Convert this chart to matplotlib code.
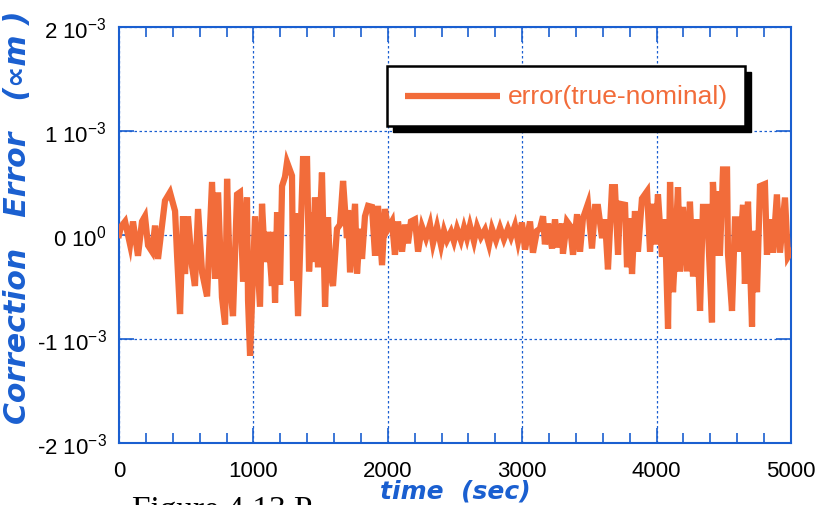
import matplotlib.pyplot as plt
from matplotlib.ticker import MultipleLocator
from matplotlib.patches import Rectangle

plt.rcParams['font.family'] = ['Liberation Sans', 'DejaVu Sans']
plt.rcParams['mathtext.fontset'] = 'custom'
plt.rcParams['mathtext.rm'] = 'Liberation Sans'
plt.rcParams['mathtext.it'] = 'Liberation Sans:italic'

# time (sec) and correction error (units of 1e-4 m)
t = [0, 15, 45, 82, 104, 141, 171, 193, 216, 246, 268, 290, 342, 379, 417, 432, 454, 476, 491, 513,
     543, 565, 588, 618, 655, 692, 714, 737, 766, 789, 804, 826, 848, 878, 900, 923, 952, 960, 975, 1012,
     1049, 1064, 1086, 1109, 1138, 1146, 1161, 1176, 1198, 1213, 1235, 1250, 1287, 1295, 1309, 1332, 1369, 1399, 1414, 1436,
     1443, 1458, 1481, 1510, 1533, 1555, 1570, 1592, 1622, 1644, 1667, 1696, 1704, 1719, 1756, 1771, 1793, 1808, 1830, 1853,
     1882, 1905, 1927, 1957, 1979, 2001, 2031, 2053, 2076, 2106, 2128, 2150, 2172, 2202, 2225, 2254, 2284, 2314, 2336, 2366,
     2396, 2418, 2440, 2470, 2492, 2515, 2544, 2567, 2589, 2611, 2641, 2664, 2693, 2723, 2753, 2775, 2805, 2835, 2864, 2894,
     2917, 2946, 2969, 2998, 3021, 3058, 3080, 3110, 3132, 3155, 3169, 3192, 3222, 3244, 3266, 3296, 3303, 3333, 3355, 3378,
     3408, 3430, 3452, 3489, 3519, 3542, 3564, 3594, 3616, 3638, 3668, 3690, 3713, 3727, 3765, 3780, 3802, 3817, 3839, 3861,
     3891, 3929, 3951, 3973, 3988, 4010, 4040, 4062, 4085, 4100, 4122, 4137, 4159, 4174, 4196, 4226, 4248, 4271, 4300, 4323,
     4345, 4375, 4412, 4419, 4449, 4457, 4471, 4494, 4524, 4531, 4561, 4583, 4605, 4620, 4643, 4657, 4680, 4710, 4717, 4747,
     4769, 4806, 4821, 4843, 4866, 4895, 4918, 4955, 4977, 5000]
err = [0.0, 0.8, 1.3, -0.9, 1.3, -2.0, 1.3, 1.8, -1.0, -1.6, 0.9, -2.3, 3.3, 4.1, 2.3, -2.0, -7.6, 1.8, -3.75, 1.8,
       -3.0, -4.9, 2.5, -3.6, -5.9, 5.1, -4.2, 4.1, -6.0, -8.6, 5.4, -4.9, -7.8, 3.9, 4.1, -4.5, 3.6, -6.3, -11.6, 1.8,
       -6.9, 3.0, -2.6, 0.3, -4.9, 0.3, -6.5, 2.2, -4.8, 4.7, 5.6, 7.0, 5.7, -4.4, 2.1, -7.8, 7.3, 7.3, -3.5, 2.2,
       -2.6, 3.6, -3.1, 6.0, -6.9, 1.7, -3.6, -4.9, 0.6, 1.0, 5.2, -0.3, 2.4, -3.6, 3.0, -3.7, 0.6, -2.3, 1.8, 2.8,
       2.7, -2.0, 2.8, -2.9, 2.5, 0.6, 1.3, -1.9, 1.3, -1.6, 1.0, -0.8, 1.3, 1.5, -1.6, 0.8, -0.3, 1.0, -0.8, 0.8,
       -1.0, 0.4, -0.5, 0.3, -0.6, 0.6, -0.5, 0.7, -0.3, 0.9, -0.6, 0.8, -0.2, 0.5, -0.9, 0.6, -0.5, 0.7, -0.4, 0.6,
       -0.2, 0.9, -0.6, 1.2, -1.4, 1.3, -1.7, 0.4, 0.6, 1.8, -0.9, 1.1, -1.3, 1.5, -1.2, 1.1, -1.8, 1.3, 0.9, -1.9,
       2.0, -1.6, 1.6, 3.0, -1.3, 2.7, 2.7, -0.3, 1.5, -3.3, 4.6, 4.6, -1.9, 3.0, 2.9, -3.1, 1.6, -3.75, 2.3, -1.6,
       3.5, 4.2, -1.6, 3.0, -0.9, 3.9, -2.1, 1.5, -9.0, 5.1, -5.5, -1.9, 4.6, -3.5, 2.7, -3.5, 3.2, -4.0, 1.5, -7.3,
       2.7, 2.7, -8.4, 5.1, -2.0, 4.2, -2.0, 6.3, 6.3, -1.8, -7.3, 1.5, 1.5, -1.6, 2.9, -4.7, 3.2, -8.8, 0.4, -5.5,
       4.7, 4.9, -1.9, 1.5, -1.7, 3.9, -1.7, 3.6, -2.1, -1.6]
err = [v * 1e-4 for v in err]

yticks = [-2e-3, -1e-3, 0, 1e-3, 2e-3]
ytick_labels = [r'-2 10$^{-3}$', r'-1 10$^{-3}$', r'0 10$^{0}$', r'1 10$^{-3}$', r'2 10$^{-3}$']
xticks = [0, 1000, 2000, 3000, 4000, 5000]

blue = '#1a5fd0'
orange = '#f26c3a'

fig = plt.figure(figsize=(8.22, 5.06), dpi=100)
ax = fig.add_axes([0.1448, 0.1225, 0.8175, 0.8222])

ax.plot(t, err, color=orange, lw=4.5, solid_joinstyle='miter', zorder=3)

ax.set_xlim(0, 5000)
ax.set_ylim(-2e-3, 2e-3)
ax.set_xticks(xticks)
ax.set_xticklabels([str(x) for x in xticks])
ax.set_yticks(yticks)
ax.set_yticklabels(ytick_labels)
ax.xaxis.set_minor_locator(MultipleLocator(200))

ax.tick_params(which='major', direction='in', length=11, width=1.2, color=blue,
               top=True, right=True, labelsize=16, pad=9)
ax.tick_params(which='minor', direction='in', length=7, width=1.2, color=blue,
               top=True, bottom=True)
ax.tick_params(axis='x', pad=12)

for s in ax.spines.values():
    s.set_color(blue)
    s.set_linewidth(1.5)

ax.grid(True, which='major', color=blue, linestyle=(0, (2, 2)), linewidth=0.9, zorder=1)

ax.set_xlabel('time  (sec)', color=blue, fontsize=18, fontweight='bold', style='italic',
              family='DejaVu Sans', va='top')
ax.xaxis.set_label_coords(0.5, -0.086)
ax.set_ylabel('Correction   Error   (\u221dm )', color=blue, fontsize=21.5, fontweight='bold',
              style='italic', family='DejaVu Sans')
ax.yaxis.set_label_coords(-0.13, 0.546)

# legend box with black drop shadow
ax.add_patch(Rectangle((0.4079, 0.7476), 0.5325, 0.1442, transform=ax.transAxes,
                       facecolor='black', edgecolor='black', zorder=5, clip_on=False))
ax.add_patch(Rectangle((0.399, 0.762), 0.5325, 0.1442, transform=ax.transAxes,
                       facecolor='white', edgecolor='black', lw=1.8, zorder=6, clip_on=False))
ax.plot([0.426, 0.567], [0.834, 0.834], transform=ax.transAxes, color=orange, lw=4.5, zorder=7,
        solid_capstyle='butt')
ax.text(0.578, 0.834, 'error(true-nominal)', transform=ax.transAxes, color=orange,
        fontsize=19, va='center', ha='left', zorder=7)

fig.text(0.160, 1 - 496 / 506, 'Figure 4.13 P', family='Liberation Serif',
         fontsize=24, va='top', ha='left')

fig.savefig('out.png', dpi=100)
